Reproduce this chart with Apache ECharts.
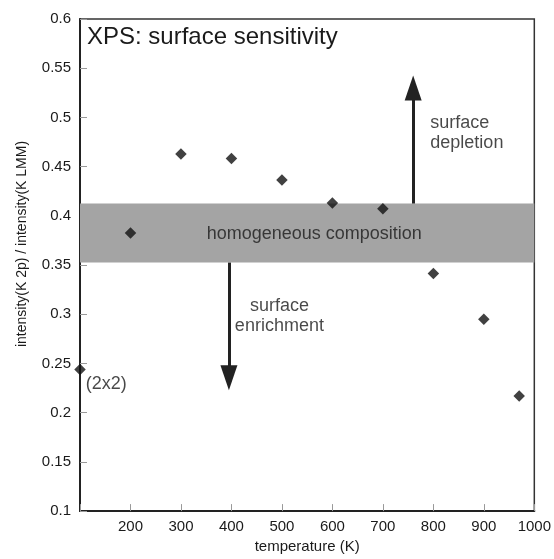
<!DOCTYPE html>
<html>
<head>
<meta charset="utf-8">
<script src="https://cdn.jsdelivr.net/npm/echarts@6/dist/echarts.min.js"></script>
<style>html,body{margin:0;padding:0;background:#fff;}#c{width:554px;height:559px;}</style>
</head>
<body>
<div id="c"></div>
<script>
// data
const temperatures = [100, 200, 300, 400, 500, 600, 700, 800, 900, 970];
const ratios = [0.244, 0.3825, 0.4628, 0.4583, 0.4364, 0.4131, 0.4071, 0.3414, 0.295, 0.217];
const pointLabels = ['(2x2)', '', '', '', '', '', '', '', '', ''];
const bandRange = [0.3525, 0.4125];
const upArrow = {x: 760, from: 0.4125, to: 0.530};
const downArrow = {x: 395, from: 0.3525, to: 0.2354};
const annotationTexts = ['homogeneous composition', 'surface\ndepletion', 'surface\nenrichment'];
const annotationX = [564, 794, 495];
const annotationY = [0.382, 0.4838, 0.298];
const annotationAlign = ['center', 'left', 'center'];
const xTicks = [100, 1000, 100];   // min, max, interval
const yTicks = [0.1, 0.6, 0.05];
const titleText = 'XPS: surface sensitivity';
const xName = 'temperature (K)';
const yName = 'intensity(K 2p) / intensity(K LMM)';

const FONT = '"Liberation Sans", Arial, Helvetica, sans-serif';
const chart = echarts.init(document.getElementById('c'), null, {renderer: 'canvas'});

const annData = annotationTexts.map((t, i) => ({
  value: [annotationX[i], annotationY[i]],
  label: {formatter: t, align: annotationAlign[i]}
}));

const option = {
  animation: false,
  backgroundColor: '#fff',
  title: {
    text: titleText, left: 82, top: 20,
    textStyle: {fontFamily: FONT, fontSize: 24, fontWeight: 'normal', color: '#1a1a1a'}
  },
  grid: {left: 80, right: 16.5, top: 19, bottom: 45, show: true, borderColor: '#333', borderWidth: 1.5, backgroundColor: 'transparent'},
  xAxis: {
    type: 'value', min: xTicks[0], max: xTicks[1], interval: xTicks[2],
    name: xName, nameLocation: 'middle', nameGap: 25,
    nameTextStyle: {fontFamily: FONT, fontSize: 15, color: '#1a1a1a'},
    axisLine: {lineStyle: {color: '#222', width: 2}},
    axisTick: {inside: true, length: 7, lineStyle: {color: '#999', width: 1}},
    axisLabel: {fontFamily: FONT, fontSize: 15, color: '#1a1a1a', margin: 8,
      formatter: v => v === xTicks[0] ? '' : String(v)},
    splitLine: {show: false}
  },
  yAxis: {
    type: 'value', min: yTicks[0], max: yTicks[1], interval: yTicks[2],
    axisLine: {show: true, lineStyle: {color: '#222', width: 2}},
    axisTick: {show: true, inside: true, length: 7, lineStyle: {color: '#999', width: 1}},
    axisLabel: {fontFamily: FONT, fontSize: 15, color: '#1a1a1a', margin: 9,
      formatter: v => String(parseFloat(v.toFixed(2)))},
    splitLine: {show: false}
  },
  graphic: [{
    type: 'text', x: 22, y: 244, rotation: Math.PI / 2,
    style: {text: yName, fontFamily: FONT, fontSize: 14, fill: '#1a1a1a', align: 'center', verticalAlign: 'middle'}
  }],
  series: [
    {
      type: 'scatter', z: 1, silent: true,
      data: [],
      markArea: {
        silent: true,
        itemStyle: {color: '#a4a4a4', opacity: 1},
        data: [[{yAxis: bandRange[0]}, {yAxis: bandRange[1]}]]
      },
      markLine: {
        silent: true, symbol: ['none', 'triangle'], symbolSize: [17, 25],
        lineStyle: {color: '#222', width: 3, type: 'solid'},
        label: {show: false},
        data: [
          [{coord: [upArrow.x, upArrow.from]}, {coord: [upArrow.x, upArrow.to]}],
          [{coord: [downArrow.x, downArrow.from]}, {coord: [downArrow.x, downArrow.to]}]
        ]
      }
    },
    {
      type: 'scatter', z: 3, silent: true,
      symbol: 'diamond', symbolSize: 11.5,
      itemStyle: {color: '#111'},
      data: temperatures.map((t, i) => ({
        value: [t, ratios[i]],
        label: {show: !!pointLabels[i], formatter: pointLabels[i], position: 'right', distance: 0, offset: [0, 15],
          fontFamily: FONT, fontSize: 18, color: '#1a1a1a'}
      }))
    },
    {
      type: 'scatter', z: 4, silent: true,
      symbol: 'circle', symbolSize: 0,
      label: {show: true, position: 'inside', fontFamily: FONT, fontSize: 18, lineHeight: 20, color: '#1a1a1a', verticalAlign: 'middle'},
      data: annData
    }
  ]
};
chart.setOption(option);
</script>
</body>
</html>
